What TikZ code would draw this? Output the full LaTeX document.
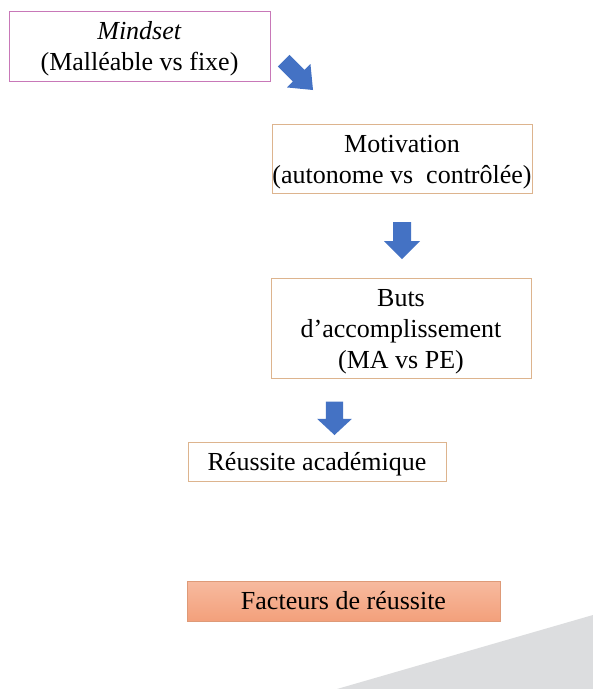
\documentclass[tikz,border=0pt]{standalone}
\usepackage{fontspec}
\setmainfont{Liberation Serif}
\definecolor{pinkb}{HTML}{C878B8}
\definecolor{tanb}{HTML}{DDB48E}
\definecolor{arrblue}{HTML}{4472C4}
\definecolor{salmtop}{HTML}{F7BA9F}
\definecolor{salmbot}{HTML}{F3A07B}
\definecolor{salmb}{HTML}{DE9A78}
\definecolor{grayshape}{HTML}{DCDDDF}
\newcommand{\topstrut}{\rule{0pt}{24pt}}
\tikzset{
  box/.style={draw=tanb, line width=0.8pt, inner sep=0pt, align=center, font=\rmfamily\fontsize{26}{31}\selectfont},
  blockarrow/.pic={\fill[arrblue] (0,0) -- (-18,-18) -- (-9,-18) -- (-9,-37) -- (9,-37) -- (9,-18) -- (18,-18) -- cycle;},
}
\begin{document}
\begin{tikzpicture}[x=1pt,y=-1pt]
\useasboundingbox (0,0) rectangle (593,689);
\fill[white] (0,0) rectangle (593,689);
\fill[grayshape] (593,615) -- (593,689) -- (337,689) -- cycle;

\node[box, draw=pinkb, minimum width=261pt, minimum height=70pt] (mind) at (139.5,46) {\topstrut\textit{Mindset}\\(Malléable vs fixe)};
\node[box, minimum width=260pt, minimum height=69pt] (moti) at (402,158.5) {\topstrut Motivation\\(autonome vs\ \ contrôlée)};
\node[box, minimum width=260pt, minimum height=100pt] (buts) at (401,328) {\topstrut Buts\\d’accomplissement\\(MA vs PE)};
\node[box, minimum width=258pt, minimum height=39pt] (reus) at (317,461.5) {\topstrut Réussite académique};
\node[box, draw=salmb, top color=salmtop, bottom color=salmbot, minimum width=313pt, minimum height=40pt] (fact) at (343.5,601) {Facteurs de réussite};

\pic[rotate=45, xscale=0.92, yscale=1.12] (a1) at (313,90) {blockarrow};
\pic (a2) at (402,259) {blockarrow};
\pic[xscale=0.97, yscale=0.9] (a3) at (334.5,435) {blockarrow};
\end{tikzpicture}
\end{document}
